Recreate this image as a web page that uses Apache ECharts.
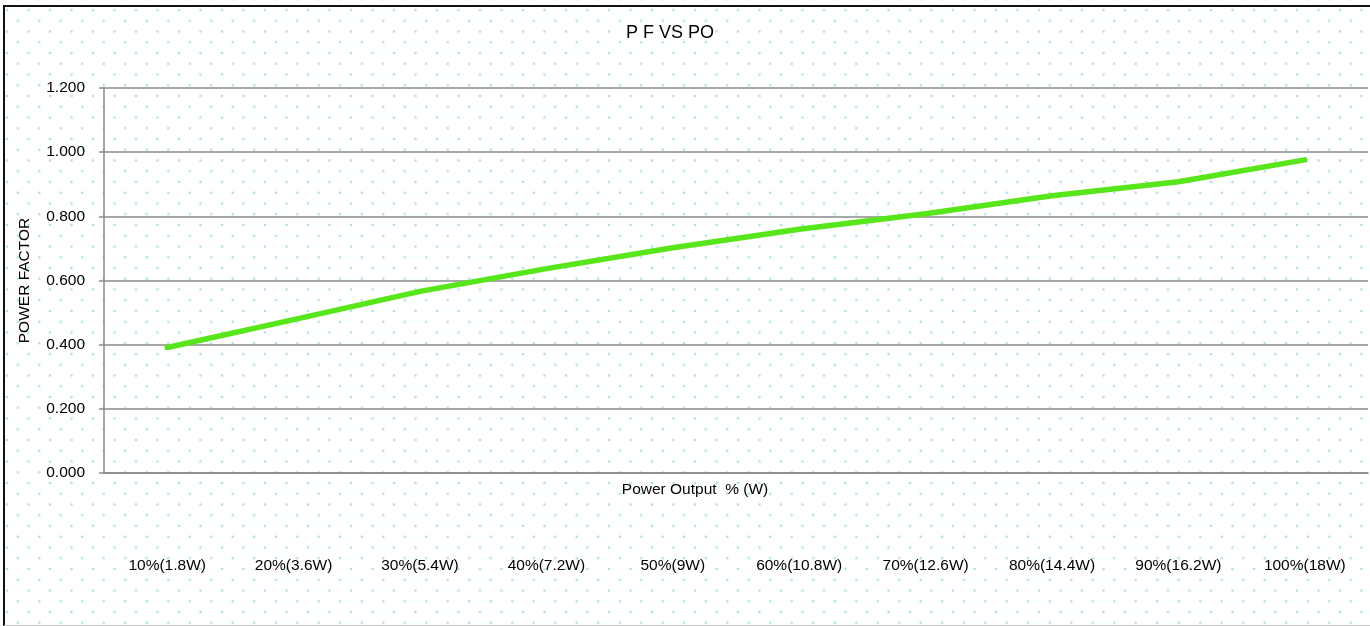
<!DOCTYPE html>
<html>
<head>
<meta charset="utf-8">
<title>P F VS PO</title>
<script src="https://cdn.jsdelivr.net/npm/echarts@6/dist/echarts.min.js"></script>
<style type="text/css">
	body{
		margin:0;
		padding:0;
		width:1370px;
		height:626px;
		overflow:hidden;
		background-color:#ffffff;
	}
	#frame{
		position:absolute;
		left:0;
		top:0;
		width:1370px;
		height:626px;
		background-image:
			radial-gradient(circle, rgba(130,205,218,0.8) 0, rgba(130,205,218,0.55) 1px, rgba(255,255,255,0) 1.7px),
			radial-gradient(circle, rgba(130,205,218,0.8) 0, rgba(130,205,218,0.55) 1px, rgba(255,255,255,0) 1.7px);
		background-size:21.5px 21.5px, 21.5px 21.5px;
		background-position:-3.75px -0.75px, 7px 10px;
	}
	#border{
		position:absolute;
		left:3px;
		top:5px;
		width:1380px;
		height:618px;
		border-left:2px solid #111;
		border-top:2px solid #111;
		border-bottom:1px solid #c8c8c8;
		pointer-events:none;
	}
	#chartContainer{
		position:absolute;
		left:0;
		top:0;
		width:1370px;
		height:626px;
	}
</style>
</head>
<body>
<div id="frame"></div>
<div id="chartContainer"></div>
<div id="border"></div>
<script type="text/javascript">
	// categories (x axis)
	var loadList = ["10%(1.8W)","20%(3.6W)","30%(5.4W)","40%(7.2W)","50%(9W)","60%(10.8W)","70%(12.6W)","80%(14.4W)","90%(16.2W)","100%(18W)"];
	// power factor
	var pfList = [0.391, 0.478, 0.566, 0.637, 0.702, 0.760, 0.808, 0.864, 0.908, 0.976];
	// y axis ticks
	var yMin = 0, yMax = 1.2, yStep = 0.2;

	var font = 'Arial, "Liberation Sans", sans-serif';
	var gridColor = '#8a8a8a';

	var myChart = echarts.init(document.getElementById('chartContainer'));
	var option = {
		backgroundColor: 'transparent',
		animation: false,
		title: [{
			text: 'P F VS PO',
			left: 670,
			textAlign: 'center',
			top: 24,
			padding: 0,
			textStyle: {fontFamily: font, fontSize: 18, fontWeight: 'normal', color: '#000'}
		}, {
			text: 'Power Output  % (W)',
			left: 695,
			textAlign: 'center',
			top: 482,
			padding: 0,
			textStyle: {fontFamily: font, fontSize: 15.5, fontWeight: 'normal', color: '#000'}
		}],
		grid: {
			left: 104,
			right: 2,
			top: 88,
			bottom: 153,
			containLabel: false
		},
		xAxis: {
			type: 'category',
			boundaryGap: true,
			data: loadList,
			axisLine: {show: true, lineStyle: {color: gridColor, width: 1.5}},
			axisTick: {show: false},
			axisLabel: {
				margin: 85,
				fontFamily: font,
				fontSize: 15.5,
				color: '#000',
				interval: 0
			},
			splitLine: {show: false}
		},
		yAxis: {
			type: 'value',
			min: yMin,
			max: yMax,
			interval: yStep,
			name: 'POWER FACTOR',
			nameLocation: 'middle',
			nameRotate: 90,
			nameGap: 71,
			nameTextStyle: {fontFamily: font, fontSize: 15.5, color: '#000'},
			axisLine: {show: true, lineStyle: {color: gridColor, width: 1.5}},
			axisTick: {show: true, length: 5, lineStyle: {color: gridColor, width: 1.5}},
			axisLabel: {
				margin: 19,
				fontFamily: font,
				fontSize: 15.5,
				color: '#000',
				formatter: function(v){ return v.toFixed(3); }
			},
			splitLine: {show: true, lineStyle: {color: gridColor, width: 1.5}}
		},
		series: [{
			name: 'PF',
			type: 'line',
			data: pfList,
			showSymbol: false,
			symbol: 'none',
			lineStyle: {color: '#57e61a', width: 5.5, cap: 'round', join: 'round'}
		}]
	};
	myChart.setOption(option);
</script>
</body>
</html>
